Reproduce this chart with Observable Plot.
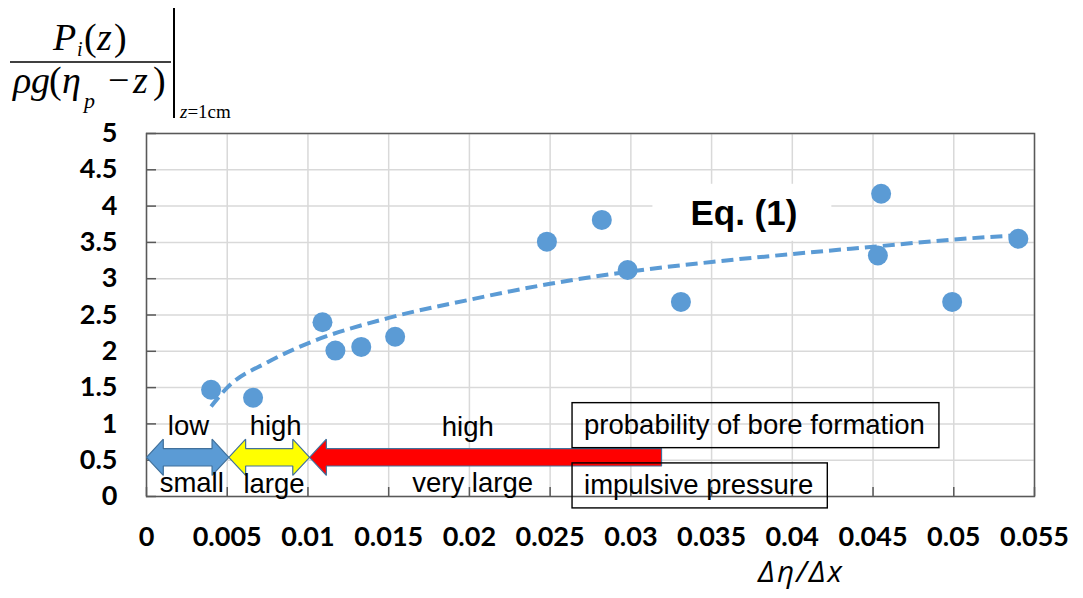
<!DOCTYPE html>
<html><head><meta charset="utf-8">
<script src="https://cdn.jsdelivr.net/npm/d3@7"></script>
<script src="https://cdn.jsdelivr.net/npm/@observablehq/plot@0.6"></script>
<style>
body{margin:0;background:#fff;}
#chart{position:relative;width:1083px;height:598px;}
</style></head><body><div id="chart"></div>
<script>
// ---- data ----
const xTicks = [0, 0.005, 0.01, 0.015, 0.02, 0.025, 0.03, 0.035, 0.04, 0.045, 0.05, 0.055];
const xTickLabels = ["0", "0.005", "0.01", "0.015", "0.02", "0.025", "0.03", "0.035", "0.04", "0.045", "0.05", "0.055"];
const yTicks = [0, 0.5, 1, 1.5, 2, 2.5, 3, 3.5, 4, 4.5, 5];
const yTickLabels = ["0", "0.5", "1", "1.5", "2", "2.5", "3", "3.5", "4", "4.5", "5"];

const pointX = [0.0040, 0.0066, 0.0109, 0.0117, 0.0133, 0.0154, 0.0248, 0.0282, 0.0298, 0.0331, 0.0455, 0.0453, 0.0499, 0.0540];
const pointY = [1.47, 1.36, 2.40, 2.01, 2.06, 2.20, 3.51, 3.81, 3.12, 2.68, 4.17, 3.32, 2.68, 3.55];

const fitX = [0.004, 0.005, 0.0075, 0.01, 0.015, 0.02, 0.025, 0.03, 0.035, 0.04, 0.045, 0.05, 0.054];
const fitY = [1.24, 1.50, 1.85, 2.11, 2.46, 2.71, 2.93, 3.10, 3.23, 3.34, 3.44, 3.54, 3.60];

const arrowStart = [0, 0.0051, 0.0101];
const arrowEnd = [0.0051, 0.0101, 0.0319];
const arrowLevel = [0.54, 0.54, 0.54];
const arrowHeads = ["both", "both", "left"];
const arrowColors = ["#5B9BD5", "#FFFF00", "#FF0000"];

const topLabels = ["low", "high", "high"];
const topLabelX = [0.0026, 0.0080, 0.0199];
const topLabelY = [0.97, 0.97, 0.95];
const bottomLabels = ["small", "large", "very large"];
const bottomLabelX = [0.0028, 0.0079, 0.0202];
const bottomLabelY = [0.18, 0.17, 0.18];
const boxLabels = ["probability of bore formation", "impulsive pressure"];
const boxLabelX = [0.0271, 0.0271];
const boxLabelY = [0.98, 0.15];
const eqLabel = ["Eq. (1)"];
const eqX = [0.037];
const eqY = [3.89];
const xTitle = "Δη/Δx";

// ---- arrow shapes (built from the arrow arrays) ----
const headLen = 0.00104, headHalf = 0.25, shaftHalf = 0.12;
function arrowPolygon(i) {
  const a = arrowStart[i], b = arrowEnd[i], c = arrowLevel[i];
  let pts;
  if (arrowHeads[i] === "both") {
    pts = [[a, c], [a + headLen, c + headHalf], [a + headLen, c + shaftHalf], [b - headLen, c + shaftHalf],
           [b - headLen, c + headHalf], [b, c], [b - headLen, c - headHalf], [b - headLen, c - shaftHalf],
           [a + headLen, c - shaftHalf], [a + headLen, c - headHalf], [a, c]];
  } else {
    pts = [[a, c], [a + headLen, c + headHalf], [a + headLen, c + shaftHalf], [b, c + shaftHalf],
           [b, c - shaftHalf], [a + headLen, c - shaftHalf], [a + headLen, c - headHalf], [a, c]];
  }
  return pts.map(([x, y]) => ({x, y}));
}

const W = 1083, H = 598, mL = 146, mR = 49, mT = 133, mB = 102;
const plotW = W - mL - mR, plotH = H - mT - mB;
const axisColor = "#595959";
const grid = "#d9d9d9";
const blue = "#5B9BD5";

const marks = [
  Plot.gridX(xTicks, {stroke: grid, strokeOpacity: 1, strokeWidth: 1.5}),
  Plot.gridY(yTicks, {stroke: grid, strokeOpacity: 1, strokeWidth: 1.5}),
  Plot.line(fitX.map((x, i) => ({x, y: fitY[i]})), {x: "x", y: "y", stroke: blue, strokeWidth: 4, strokeDasharray: "12,6", strokeLinecap: "butt", curve: "monotone-x"}),
  Plot.dot(pointX.map((x, i) => ({x, y: pointY[i]})), {x: "x", y: "y", r: 10, fill: blue, stroke: null}),
  Plot.tickX(xTicks, {x: d => d, stroke: axisColor, strokeWidth: 1.5, insetTop: plotH - 9}),
  Plot.tickY(yTicks, {y: d => d, stroke: axisColor, strokeWidth: 1.5, insetRight: plotW - 10}),
  Plot.frame({stroke: axisColor, strokeWidth: 1.5}),
  Plot.axisX(xTicks, {tickSize: 0, tickPadding: 30, tickFormat: d => xTickLabels[xTicks.indexOf(d)], label: null, fontFamily: "Lato", fontWeight: "bold", fontSize: 27, fill: "#000"}),
  Plot.axisY(yTicks, {tickSize: 0, tickPadding: 29, tickFormat: d => yTickLabels[yTicks.indexOf(d)], label: null, fontFamily: "Lato", fontWeight: "bold", fontSize: 27, fill: "#000"}),
];
arrowStart.forEach((_, i) => {
  marks.push(Plot.line(arrowPolygon(i), {x: "x", y: "y", fill: arrowColors[i], stroke: "#41719C", strokeWidth: 1.2, curve: "linear", strokeLinejoin: "miter", strokeLinecap: "butt"}));
});
const labelFont = {fontFamily: "Liberation Sans", fontSize: 27.5, fontWeight: "normal", fill: "#000"};
marks.push(Plot.text(topLabels, {x: topLabelX, y: topLabelY, text: d => d, ...labelFont}));
marks.push(Plot.text(bottomLabels, {x: bottomLabelX, y: bottomLabelY, text: d => d, ...labelFont}));
marks.push(Plot.text(boxLabels, {x: boxLabelX, y: boxLabelY, text: d => d, textAnchor: "start", ...labelFont}));
marks.push(Plot.text(eqLabel, {x: eqX, y: eqY, text: d => d, fontFamily: "Liberation Sans", fontSize: 35, fontWeight: "bold", fill: "#000"}));

const svg = Plot.plot({
  width: W, height: H,
  marginLeft: mL, marginRight: mR, marginTop: mT, marginBottom: mB,
  style: {fontFamily: "Lato", fontSize: "25px", color: "#000", background: "#fff", overflow: "visible"},
  x: {domain: [0, 0.055]},
  y: {domain: [0, 5]},
  marks
});
document.getElementById("chart").appendChild(svg);

const s = d3.select(svg);
const svgNS = "http://www.w3.org/2000/svg";
// boxes around annotation texts, white backing for Eq. label
s.selectAll("text").each(function () {
  const t = this.textContent;
  if (boxLabels.includes(t)) {
    const bb = this.getBBox();
    const r = document.createElementNS(svgNS, "rect");
    const cy = bb.y + bb.height / 2;
    r.setAttribute("x", bb.x - 12); r.setAttribute("y", cy - 22);
    r.setAttribute("width", bb.width + 26); r.setAttribute("height", 45);
    r.setAttribute("fill", "none"); r.setAttribute("stroke", "#000"); r.setAttribute("stroke-width", 1.4);
    if (this.getAttribute("transform")) r.setAttribute("transform", this.getAttribute("transform"));
    this.parentNode.appendChild(r);
  } else if (eqLabel.includes(t)) {
    const bb = this.getBBox();
    const r = document.createElementNS(svgNS, "rect");
    const cy = bb.y + bb.height / 2;
    r.setAttribute("x", bb.x - 38); r.setAttribute("y", cy - 29);
    r.setAttribute("width", bb.width + 72); r.setAttribute("height", 57);
    r.setAttribute("fill", "#fff");
    if (this.getAttribute("transform")) r.setAttribute("transform", this.getAttribute("transform"));
    this.parentNode.insertBefore(r, this);
  }
});

// x-axis title
s.append("text").attr("x", 801).attr("y", 582).attr("text-anchor", "middle")
  .attr("font-family", "'Open Sans'").attr("font-style", "italic").attr("font-size", 30)
  .attr("letter-spacing", 2).attr("fill", "#000").text(xTitle);

// y-axis title (formula), one text element per row
const f = s.append("g").attr("font-family", "'Liberation Serif', serif").attr("fill", "#000")
  .attr("font-weight", "normal").attr("text-anchor", "start");
function row(y, size, parts) {
  const te = f.append("text").attr("y", y).attr("font-size", size);
  parts.forEach(([x, dy, sz, italic, str]) => {
    const sp = te.append("tspan").attr("dy", dy).attr("font-style", italic ? "italic" : "normal").text(str);
    if (x !== null) sp.attr("x", x);
    if (sz) sp.attr("font-size", sz);
  });
}
row(50, 38, [[53, 0, null, true, "P"], [77, 6, 20, true, "i"], [84, -6, null, false, "("], [97, 0, null, true, "z"], [114, 0, null, false, ")"]]);
f.append("line").attr("x1", 10).attr("x2", 171).attr("y1", 62).attr("y2", 62).attr("stroke", "#000").attr("stroke-width", 1.5);
row(93, 38, [[13, 0, null, true, "ρ"], [31, 0, null, true, "g"], [49, 0, null, false, "("], [62, 0, null, true, "η"],
             [84, 15, 22, true, "p"], [108, -15, null, false, "−"], [133, 0, null, true, "z"], [153, 0, null, false, ")"]]);
f.append("line").attr("x1", 174).attr("x2", 174).attr("y1", 8).attr("y2", 118).attr("stroke", "#000").attr("stroke-width", 2);
row(118, 19, [[180, 0, null, true, "z"], [null, 0, null, false, "=1cm"]]);
</script></body></html>
